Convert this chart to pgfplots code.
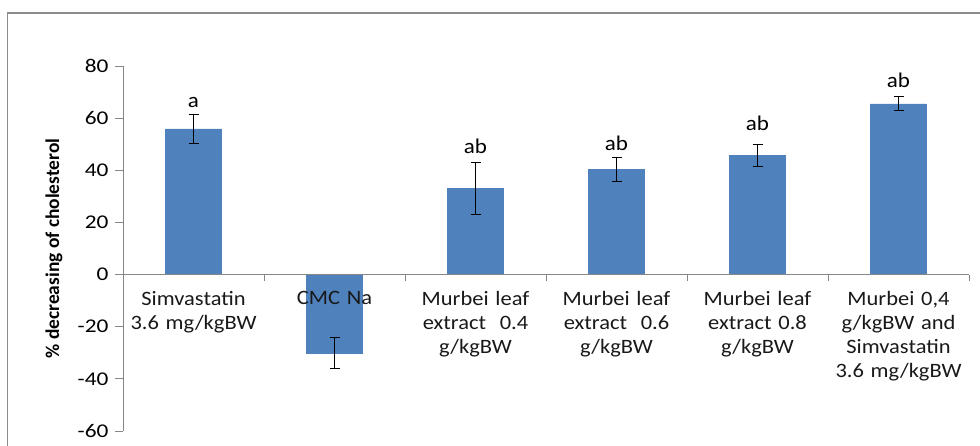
\documentclass[border=0pt]{standalone}
\usepackage{pgfplots}
\pgfplotsset{compat=1.18}
\usepackage{pgfplotstable}
\usepackage{fontspec}
\setmainfont{Carlito}
\newfontfamily\widefont[FakeStretch=1.1]{Carlito}
\newfontfamily\tickfont[FakeStretch=1.2]{Carlito}
\definecolor{barblue}{HTML}{4F81BD}
\definecolor{axgray}{HTML}{868686}
\definecolor{framegray}{HTML}{8C8C8C}
\pgfplotstableread{
x y err
0 55.9 5.5
1 -30.1 6.0
2 33.0 10.0
3 40.3 4.5
4 45.7 4.2
5 65.5 2.7
}\datatable
\begin{document}
\begin{tikzpicture}
\useasboundingbox (0,0) rectangle (980bp,446bp);
\draw[framegray, line width=1.5bp] (7.5bp,-5bp) -- (7.5bp,433bp) -- (990bp,433bp);
\begin{axis}[
  at={(123bp,15bp)}, anchor=south west,
  scale only axis, width=846bp, height=365bp,
  xmin=-0.5, xmax=5.5, ymin=-60, ymax=80,
  axis y line=left, axis x line=middle,
  axis line style={-, draw=axgray, line width=0.8bp},
  ytick={-60,-40,...,80},
  xtick={0,1,2,3,4,5},
  xticklabels={{Simvastatin\\3.6 mg/kgBW},{CMC Na},{Murbei leaf\\extract~~0.4\\g/kgBW},{Murbei leaf\\extract~~0.6\\g/kgBW},{Murbei leaf\\extract 0.8\\g/kgBW},{Murbei 0,4\\g/kgBW and\\Simvastatin\\3.6 mg/kgBW}},
  minor xtick={0.5,1.5,2.5,3.5,4.5,5.5},
  major x tick style={draw=none},
  minor x tick style={draw=axgray, line width=0.8bp},
  minor tick length=6bp,
  tick align=outside,
  y tick style={draw=axgray, line width=0.8bp},
  major tick length=8bp,
  /pgf/number format/assume math mode=true,
  yticklabel style={font=\tickfont\fontsize{19.5}{20}\selectfont, text=black, xshift=-3bp},
  xticklabel style={font=\widefont\fontsize{20.5}{24.3}\selectfont, text=black!90, align=center, text width=140bp, anchor=north, yshift=-5bp},
  ylabel={\textbf{\% decreasing of cholesterol}},
  every axis y label/.style={at={(axis description cs:0,0.5)}, xshift=-69bp, rotate=90, anchor=center, font=\fontsize{19.5}{20}\selectfont},
  axis on top,
  clip=false,
]
\addplot[ybar, bar width=56bp, fill=barblue, draw=barblue,
  error bars/.cd, y dir=both, y explicit,
  error bar style={black, line width=0.8bp}, error mark options={black, mark size=5bp, line width=0.8bp, rotate=90}]
  table[x=x, y=y, y error=err] {\datatable};
\begin{scope}[font=\widefont\fontsize{21}{22}\selectfont]
\node[anchor=base] at (axis cs:0,64.1) {a};
\node[anchor=base] at (axis cs:2,46.4) {ab};
\node[anchor=base] at (axis cs:3,47.6) {ab};
\node[anchor=base] at (axis cs:4,55.2) {ab};
\node[anchor=base] at (axis cs:5,71.8) {ab};
\end{scope}
\end{axis}
\end{tikzpicture}
\end{document}
